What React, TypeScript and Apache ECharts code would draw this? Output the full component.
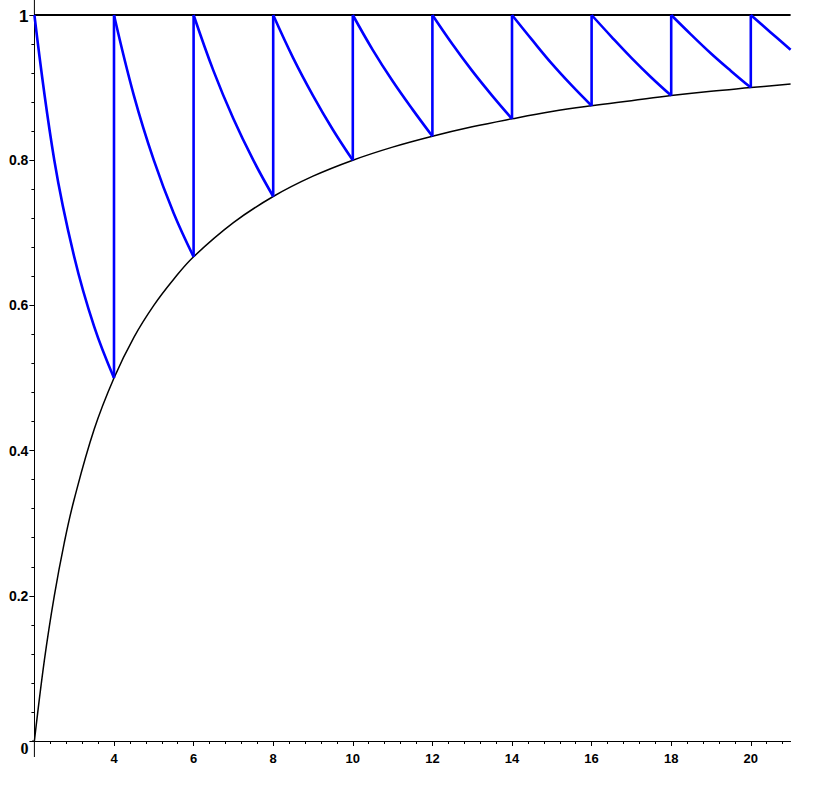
import React, { useEffect, useRef } from "react";
import * as echarts from "echarts";

// Lower bound curve (black)
const lowerX = [2, 2.25, 2.5, 2.75, 3, 3.5, 4, 4.5, 5, 5.5, 6, 7, 8, 9, 10, 11, 12, 13, 14, 15, 16, 17, 18, 19, 20, 21];
const lowerY = [0, 0.111, 0.2, 0.273, 0.333, 0.429, 0.5, 0.556, 0.6, 0.636, 0.667, 0.714, 0.75, 0.778, 0.8, 0.818, 0.833, 0.846, 0.857, 0.867, 0.875, 0.882, 0.889, 0.895, 0.9, 0.905];

// Upper bound line (black)
const upperX = [2, 21];
const upperY = [1, 1];

// Blue sawtooth arcs: start x of each arc, x offsets inside an arc, and values
const sawStarts = [2, 4, 6, 8, 10, 12, 14, 16, 18, 20];
const arcOffsets = [0, 0.5, 1, 1.5, 2];
const sawValues = [
  [1, 0.8, 0.667, 0.571, 0.5],
  [1, 0.889, 0.8, 0.727, 0.667],
  [1, 0.923, 0.857, 0.8, 0.75],
  [1, 0.941, 0.889, 0.842, 0.8],
  [1, 0.952, 0.909, 0.87, 0.833],
  [1, 0.96, 0.923, 0.889, 0.857],
  [1, 0.966, 0.933, 0.903, 0.875],
  [1, 0.97, 0.941, 0.914, 0.889],
  [1, 0.973, 0.947, 0.923, 0.9],
  [1, 0.976, 0.952],
];

// Tick labels
const xTickLabels = [4, 6, 8, 10, 12, 14, 16, 18, 20];
const yTickLabels = [0, 0.2, 0.4, 0.6, 0.8, 1];

const X_MIN = 2;
const X_MAX = 21;

export default function App() {
  const ref = useRef<HTMLDivElement>(null);

  useEffect(() => {
    if (!ref.current) return;
    const chart = echarts.init(ref.current, null, { renderer: "svg" });

    const gridLeft = 34.4;
    const gridRight = 28.4;
    const gridTop = 15;
    const gridBottom = 45;

    const minorX: number[] = [];
    for (let k = 0; ; k++) {
      const v = Math.round((X_MIN + k * 0.4) * 10) / 10;
      if (v > X_MAX) break;
      if (v > X_MIN) minorX.push(v);
    }

    const black = "#000000";
    const blue = "#0000ff";
    const sans = "Liberation Sans, Arial, sans-serif";

    const series: any[] = [];
    series.push({
      type: "line",
      data: upperX.map((x, i) => [x, upperY[i]]),
      symbol: "none",
      lineStyle: { color: black, width: 2 },
      silent: true,
    });
    series.push({
      type: "line",
      data: lowerX.map((x, i) => [x, lowerY[i]]),
      symbol: "none",
      smooth: 0.4,
      lineStyle: { color: black, width: 1.5 },
      silent: true,
    });
    sawStarts.forEach((s, si) => {
      const vals = sawValues[si];
      series.push({
        type: "line",
        data: vals.map((v, j) => [s + arcOffsets[j], v]),
        symbol: "none",
        smooth: 0.4,
        lineStyle: { color: blue, width: 2.6 },
        silent: true,
      });
      if (si > 0) {
        const prev = sawValues[si - 1];
        series.push({
          type: "line",
          data: [
            [s, prev[prev.length - 1]],
            [s, vals[0]],
          ],
          symbol: "none",
          lineStyle: { color: blue, width: 2.6 },
          silent: true,
        });
      }
    });

    chart.setOption({
      animation: false,
      backgroundColor: "#ffffff",
      grid: { left: gridLeft, right: gridRight, top: gridTop, bottom: gridBottom },
      xAxis: [
        {
          type: "value",
          min: X_MIN,
          max: X_MAX,
          position: "bottom",
          axisLine: { show: true, lineStyle: { color: black, width: 1 } },
          axisTick: { show: true, length: 3, customValues: minorX, lineStyle: { color: black } },
          axisLabel: { show: false },
          splitLine: { show: false },
        },
        {
          type: "value",
          min: X_MIN,
          max: X_MAX,
          position: "bottom",
          axisLine: { show: false },
          axisTick: { show: true, length: 5, customValues: xTickLabels, lineStyle: { color: black } },
          axisLabel: {
            show: true,
            customValues: xTickLabels,
            margin: 11,
            fontFamily: sans,
            fontWeight: "bold",
            fontSize: 13,
            color: black,
          },
          splitLine: { show: false },
        },
      ],
      yAxis: {
        type: "value",
        min: 0,
        max: 1,
        interval: 0.2,
        axisLine: { show: true, lineStyle: { color: black, width: 1 } },
        axisTick: { show: true, length: 5, lineStyle: { color: black } },
        minorTick: { show: true, splitNumber: 5, length: 3, lineStyle: { color: black } },
        splitLine: { show: false },
        axisLabel: {
          margin: 6,
          fontFamily: sans,
          fontWeight: "bold",
          fontSize: 14,
          color: black,
          formatter: (v: number) => {
            const lbl = yTickLabels.find((t) => Math.abs(t - v) < 1e-9);
            if (lbl === undefined) return "";
            if (lbl === 0) return "{zero|0}";
            if (lbl === 1) return "{one|1}";
            return String(lbl);
          },
          rich: {
            zero: {
              fontFamily: "Liberation Serif, Times New Roman, serif",
              fontWeight: "bold",
              fontSize: 16,
              color: black,
              padding: [14, 0, 0, 0],
            },
            one: {
              fontFamily: sans,
              fontWeight: "bold",
              fontSize: 17,
              color: black,
              padding: [3, 0, 0, 0],
            },
          },
        },
      },
      graphic: [
        {
          type: "line",
          shape: { x1: gridLeft, y1: 0, x2: gridLeft, y2: gridTop },
          style: { stroke: black, lineWidth: 1 },
          silent: true,
        },
        {
          type: "line",
          shape: { x1: gridLeft, y1: 786 - gridBottom, x2: gridLeft, y2: 757 },
          style: { stroke: black, lineWidth: 1 },
          silent: true,
        },
        {
          type: "line",
          shape: { x1: 32, y1: 786 - gridBottom, x2: gridLeft, y2: 786 - gridBottom },
          style: { stroke: black, lineWidth: 1 },
          silent: true,
        },
      ],
      series,
    });

    return () => chart.dispose();
  }, []);

  return (
    <div
      ref={ref}
      style={{ position: "fixed", left: 0, top: 0, width: 819, height: 786, background: "#fff" }}
    />
  );
}
